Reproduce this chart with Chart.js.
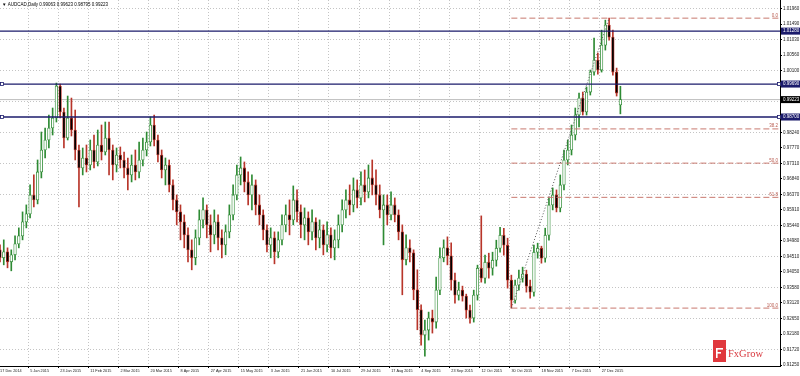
<!DOCTYPE html>
<html>
<head>
<meta charset="utf-8">
<script src="https://cdn.jsdelivr.net/npm/chart.js"></script>
<style>
  html, body { margin: 0; padding: 0; background: #fff; }
  #wrap { position: relative; width: 800px; height: 376px; }
</style>
</head>
<body>
<div id="wrap"><canvas id="chart" width="800" height="376"></canvas></div>
<script>
// AUDCAD daily, Dec 2014 - Dec 2015 (one candle per two trading days)
const symbolTitle = 'AUDCAD,Daily';
const dateLabels = ['17 Dec 2014','5 Jan 2015','23 Jan 2015','11 Feb 2015','2 Mar 2015','20 Mar 2015','8 Apr 2015',
  '27 Apr 2015','15 May 2015','3 Jun 2015','21 Jun 2015','10 Jul 2015','29 Jul 2015','17 Aug 2015','4 Sep 2015',
  '23 Sep 2015','12 Oct 2015','30 Oct 2015','18 Nov 2015','7 Dec 2015','27 Dec 2015'];
const dateTickStep = 16; // bars between two date labels
const yTickValues = [1.01960,1.01490,1.01030,1.00560,1.00100,0.99630,0.99170,0.98700,0.98240,0.97770,0.97310,0.96840,
  0.96370,0.95910,0.95440,0.94980,0.94510,0.94050,0.93580,0.93120,0.92650,0.92180,0.91720,0.91250];
const hLevels = [1.01280, 0.99690, 0.98700];
const fibLevels = [0, 38.2, 50, 61.8, 100];
const fibLowIndex = 136, fibHighIndex = 162;

const opens = [0.9471,0.9447,0.9465,0.9435,0.9456,0.9489,0.9513,0.9555,0.9579,0.9636,
  0.9621,0.9705,0.9771,0.9801,0.9837,0.9867,0.9963,0.9885,0.9807,0.9867,
  0.9831,0.9771,0.9717,0.9747,0.9726,0.9771,0.9735,0.9786,0.9765,0.9807,
  0.9771,0.9726,0.9756,0.9741,0.9717,0.9696,0.9726,0.9705,0.9741,0.9771,
  0.9795,0.9846,0.9801,0.9756,0.9711,0.9726,0.9666,0.9621,0.9585,0.9555,
  0.9516,0.9471,0.9447,0.9507,0.9561,0.9591,0.9546,0.9516,0.9555,0.9507,
  0.9486,0.9525,0.9576,0.9636,0.9696,0.9717,0.9675,0.9636,0.9666,0.9606,
  0.9576,0.9531,0.9486,0.9507,0.9465,0.9501,0.9546,0.9576,0.9561,0.9621,
  0.9585,0.9546,0.9567,0.9525,0.9555,0.9507,0.9531,0.9486,0.9516,0.9477,
  0.9501,0.9546,0.9591,0.9621,0.9606,0.9651,0.9627,0.9666,0.9645,0.9687,
  0.9666,0.9636,0.9591,0.9606,0.9576,0.9606,0.9576,0.9525,0.9441,0.9477,
  0.9462,0.9351,0.9291,0.9215,0.9230,0.9266,0.9254,0.9350,0.9447,0.9477,
  0.9453,0.9380,0.9335,0.9350,0.9332,0.9290,0.9266,0.9335,0.9416,0.9386,
  0.9434,0.9416,0.9440,0.9476,0.9515,0.9485,0.9380,0.9320,0.9365,0.9386,
  0.9398,0.9362,0.9344,0.9464,0.9476,0.9446,0.9515,0.9606,0.9636,0.9597,
  0.9666,0.9741,0.9771,0.9816,0.9876,0.9927,0.9885,0.9945,1.0005,1.0041,
  1.0011,1.0086,1.0146,1.0110,1.0005,0.99063];
const highs = [0.9486,0.9501,0.9477,0.9471,0.9513,0.9537,0.9585,0.9606,0.9666,0.9696,
  0.9741,0.9825,0.9837,0.9876,0.9897,0.9972,0.9969,0.9897,0.9933,0.9927,
  0.9891,0.9786,0.9777,0.9786,0.9801,0.9816,0.9831,0.9846,0.9855,0.9855,
  0.9786,0.9777,0.9780,0.9765,0.9747,0.9756,0.9771,0.9795,0.9807,0.9825,
  0.9870,0.9876,0.9816,0.9771,0.9747,0.9741,0.9681,0.9636,0.9606,0.9576,
  0.9537,0.9501,0.9531,0.9591,0.9627,0.9606,0.9576,0.9591,0.9576,0.9531,
  0.9546,0.9606,0.9666,0.9726,0.9750,0.9735,0.9705,0.9696,0.9681,0.9636,
  0.9591,0.9546,0.9537,0.9525,0.9525,0.9576,0.9606,0.9621,0.9663,0.9651,
  0.9606,0.9597,0.9585,0.9591,0.9567,0.9561,0.9546,0.9555,0.9537,0.9531,
  0.9576,0.9621,0.9651,0.9666,0.9687,0.9681,0.9705,0.9711,0.9726,0.9741,
  0.9711,0.9666,0.9636,0.9636,0.9645,0.9627,0.9591,0.9546,0.9516,0.9501,
  0.9471,0.9411,0.9306,0.9260,0.9284,0.9290,0.9389,0.9477,0.9501,0.9510,
  0.9492,0.9401,0.9374,0.9362,0.9338,0.9305,0.9350,0.9425,0.9573,0.9455,
  0.9461,0.9464,0.9500,0.9539,0.9536,0.9506,0.9395,0.9380,0.9410,0.9419,
  0.9410,0.9380,0.9485,0.9491,0.9482,0.9536,0.9627,0.9657,0.9651,0.9696,
  0.9771,0.9801,0.9846,0.9897,0.9942,0.9945,0.9960,1.0011,1.0107,1.0062,
  1.0131,1.0161,1.0167,1.0131,1.0017,0.99623];
const lows = [0.9435,0.9426,0.9417,0.9408,0.9441,0.9477,0.9501,0.9537,0.9567,0.9600,
  0.9609,0.9687,0.9747,0.9777,0.9816,0.9855,0.9867,0.9777,0.9801,0.9813,
  0.9741,0.9600,0.9696,0.9705,0.9711,0.9717,0.9723,0.9741,0.9756,0.9696,
  0.9681,0.9705,0.9717,0.9687,0.9651,0.9675,0.9681,0.9687,0.9723,0.9753,
  0.9783,0.9783,0.9735,0.9687,0.9666,0.9645,0.9591,0.9546,0.9501,0.9477,
  0.9435,0.9411,0.9426,0.9486,0.9537,0.9507,0.9465,0.9489,0.9471,0.9447,
  0.9456,0.9507,0.9561,0.9621,0.9666,0.9645,0.9606,0.9591,0.9576,0.9546,
  0.9501,0.9465,0.9447,0.9429,0.9447,0.9486,0.9525,0.9516,0.9546,0.9555,
  0.9507,0.9501,0.9486,0.9501,0.9471,0.9477,0.9456,0.9465,0.9447,0.9441,
  0.9477,0.9525,0.9567,0.9576,0.9585,0.9597,0.9606,0.9615,0.9627,0.9636,
  0.9606,0.9567,0.9486,0.9546,0.9561,0.9555,0.9501,0.9336,0.9426,0.9435,
  0.9321,0.9231,0.9185,0.9152,0.9200,0.9221,0.9236,0.9336,0.9435,0.9426,
  0.9350,0.9311,0.9320,0.9317,0.9266,0.9251,0.9254,0.9320,0.9374,0.9371,
  0.9386,0.9395,0.9422,0.9464,0.9455,0.9356,0.9296,0.9311,0.9350,0.9374,
  0.9344,0.9326,0.9332,0.9446,0.9431,0.9434,0.9500,0.9591,0.9585,0.9585,
  0.9651,0.9726,0.9756,0.9801,0.9840,0.9876,0.9876,0.9936,0.9996,0.9999,
  1.0005,1.0071,1.0101,0.9996,0.9933,0.98795];
const closes = [0.9447,0.9465,0.9435,0.9456,0.9489,0.9513,0.9555,0.9579,0.9636,0.9621,
  0.9705,0.9771,0.9801,0.9837,0.9867,0.9963,0.9885,0.9807,0.9867,0.9831,
  0.9771,0.9717,0.9747,0.9726,0.9771,0.9735,0.9786,0.9765,0.9807,0.9771,
  0.9726,0.9756,0.9741,0.9717,0.9696,0.9726,0.9705,0.9741,0.9771,0.9795,
  0.9846,0.9801,0.9756,0.9711,0.9726,0.9666,0.9621,0.9585,0.9555,0.9516,
  0.9471,0.9447,0.9507,0.9561,0.9591,0.9546,0.9516,0.9555,0.9507,0.9486,
  0.9525,0.9576,0.9636,0.9696,0.9717,0.9675,0.9636,0.9666,0.9606,0.9576,
  0.9531,0.9486,0.9507,0.9465,0.9501,0.9546,0.9576,0.9561,0.9621,0.9585,
  0.9546,0.9567,0.9525,0.9555,0.9507,0.9531,0.9486,0.9516,0.9477,0.9501,
  0.9546,0.9591,0.9621,0.9606,0.9651,0.9627,0.9666,0.9645,0.9687,0.9666,
  0.9636,0.9591,0.9606,0.9576,0.9606,0.9576,0.9525,0.9441,0.9477,0.9462,
  0.9351,0.9291,0.9215,0.9230,0.9266,0.9254,0.9350,0.9447,0.9477,0.9453,
  0.9380,0.9335,0.9350,0.9332,0.9290,0.9266,0.9335,0.9416,0.9386,0.9434,
  0.9416,0.9440,0.9476,0.9515,0.9485,0.9380,0.9320,0.9365,0.9386,0.9398,
  0.9362,0.9344,0.9464,0.9476,0.9446,0.9515,0.9606,0.9636,0.9597,0.9666,
  0.9741,0.9771,0.9816,0.9876,0.9927,0.9885,0.9945,1.0005,1.0041,1.0011,
  1.0086,1.0146,1.0110,1.0005,0.9942,0.99223];

// view window (bar index / price)
const xMin = 1, xMax = 415.9;
const yMin = 0.91221, yMax = 1.02215;
const firstBar = 1, barStep = 2;

const UP = '#2e8b34', DOWN = '#b8352a';
const GRID = '#c4c4c4';
const NAVY = '#1b1b6b';
const FIB = '#c8786e';
const FONT = '"Liberation Sans", Arial, sans-serif';

const isUp = i => closes[i] >= opens[i];
const barX = closes.map((_, i) => firstBar + i * barStep);
const last = closes.length - 1;

const fibHigh = highs[fibHighIndex], fibLow = lows[fibLowIndex];
const fibPrice = lvl => fibHigh - lvl / 100 * (fibHigh - fibLow);

function lineSet(points, color, width, dash, order) {
  return { type: 'line', data: points, borderColor: color, borderWidth: width, borderDash: dash,
    pointRadius: 0, fill: false, tension: 0, order };
}

const datasets = [
  { type: 'bar', data: barX.map((x, i) => ({ x, y: [lows[i], highs[i]] })),
    backgroundColor: c => isUp(c.dataIndex) ? UP : DOWN, borderWidth: 0,
    barThickness: 1, grouped: false, order: 4 },
  { type: 'bar', data: barX.map((x, i) => ({ x, y: [opens[i], closes[i]] })),
    backgroundColor: c => isUp(c.dataIndex) ? '#ffffff' : '#000000',
    borderColor: c => isUp(c.dataIndex) ? UP : DOWN, borderWidth: 0.8, borderSkipped: false,
    barThickness: 2.6, grouped: false, order: 3 },
  // bid line
  lineSet([{ x: xMin, y: closes[last] }, { x: xMax, y: closes[last] }], '#bdbdbd', 1, [], 5),
  // fibo trend
  lineSet([{ x: barX[fibLowIndex], y: fibLow }, { x: barX[fibHighIndex], y: fibHigh }], '#555', 1, [1, 2], 1)
];
fibLevels.forEach(l => datasets.push(
  lineSet([{ x: barX[fibLowIndex], y: fibPrice(l) }, { x: xMax, y: fibPrice(l) }], FIB, 1, [6, 3], 1)));
hLevels.forEach(l => datasets.push(
  lineSet([{ x: xMin, y: l }, { x: xMax, y: l }], NAVY, 1.3, [], 0)));

const overlay = {
  id: 'overlay',
  afterDraw(chart) {
    const { ctx, chartArea: area, scales: { y } } = chart;
    ctx.save();
    ctx.textBaseline = 'middle';
    ctx.textAlign = 'left';

    // title line
    ctx.font = '4.5px ' + FONT;
    ctx.fillStyle = '#000';
    const ohlc = [opens[last], highs[last], lows[last], closes[last]].map(v => v.toFixed(5)).join(' ');
    ctx.fillText('\u25BC ' + symbolTitle + ' ' + ohlc, 2, 5);

    // fibo level captions
    ctx.textAlign = 'right';
    ctx.textBaseline = 'bottom';
    ctx.fillStyle = '#b85a4e';
    fibLevels.forEach(l => ctx.fillText(l.toFixed(1), area.right - 2, y.getPixelForValue(fibPrice(l)) - 0.5));

    // price tags on the axis
    ctx.textAlign = 'left';
    ctx.textBaseline = 'middle';
    const tag = (v, bg) => {
      const py = y.getPixelForValue(v);
      ctx.fillStyle = bg;
      ctx.fillRect(area.right + 1, py - 3.5, chart.width - area.right - 1, 7);
      ctx.fillStyle = '#fff';
      ctx.fillText(v.toFixed(5), area.right + 3, py);
    };
    hLevels.forEach(v => tag(v, NAVY));
    tag(closes[last], '#000');

    // line handles (the two lower lines are selected)
    hLevels.slice(1).forEach(v => {
      const py = y.getPixelForValue(v);
      [area.left + 2, area.right - 1].forEach(px => {
        ctx.fillStyle = '#fff';
        ctx.fillRect(px - 1.5, py - 1.5, 3, 3);
        ctx.strokeStyle = NAVY;
        ctx.lineWidth = 0.8;
        ctx.strokeRect(px - 1.5, py - 1.5, 3, 3);
      });
    });

    // FxGrow logo
    const lx = area.right - 67, ly = area.bottom - 26;
    ctx.fillStyle = '#e0383d';
    ctx.fillRect(lx, ly, 13, 22);
    ctx.fillStyle = '#fff';
    ctx.fillRect(lx + 3, ly + 8, 7, 1.6);
    ctx.fillRect(lx + 3, ly + 12, 5, 1.6);
    ctx.fillRect(lx + 3, ly + 8, 1.6, 10);
    ctx.font = '10.5px "Liberation Serif", "DejaVu Serif", serif';
    ctx.fillStyle = '#d8363c';
    ctx.textBaseline = 'alphabetic';
    ctx.fillText('FxGrow', lx + 15, ly + 17);
    ctx.restore();
  }
};

new Chart(document.getElementById('chart'), {
  type: 'bar',
  data: { datasets },
  options: {
    responsive: false,
    animation: false,
    events: [],
    layout: { padding: 0 },
    plugins: { legend: { display: false }, tooltip: { enabled: false } },
    scales: {
      x: {
        type: 'linear', min: xMin, max: xMax, bounds: 'data', offset: false,
        afterBuildTicks: s => { s.ticks = dateLabels.map((_, k) => ({ value: k * dateTickStep })); },
        afterFit: s => { s.height = 10; s.paddingLeft = 0; s.paddingRight = 0; },
        ticks: { callback: (v, i) => dateLabels[i], autoSkip: false, maxRotation: 0, minRotation: 0,
          align: 'start', labelOffset: 2, padding: 1, color: '#222', font: { family: FONT, size: 3.8 } },
        grid: { color: GRID, offset: false, tickLength: 2, tickColor: '#000' },
        border: { display: true, color: '#000', width: 1, dash: [1, 2] }
      },
      y: {
        type: 'linear', position: 'right', min: yMin, max: yMax, bounds: 'data',
        afterBuildTicks: s => { s.ticks = yTickValues.slice().reverse().map(v => ({ value: v })); },
        afterFit: s => { s.width = 20; s.paddingTop = 0; s.paddingBottom = 0; },
        ticks: { callback: v => v.toFixed(5), autoSkip: false, padding: 1, color: '#222',
          font: { family: FONT, size: 4.5 } },
        grid: { color: c => (yTickValues.indexOf(c.tick.value) % 2 === 0 ? GRID : 'rgba(0,0,0,0)'),
          tickLength: 2, tickColor: '#000' },
        border: { display: true, color: '#000', width: 1, dash: [1, 2] }
      }
    }
  },
  plugins: [overlay]
});
</script>
</body>
</html>
